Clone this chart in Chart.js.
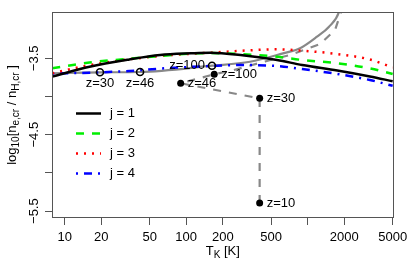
<!DOCTYPE html>
<html>
<head>
<meta charset="utf-8">
<script src="https://cdn.jsdelivr.net/npm/chart.js@4.4.0/dist/chart.umd.min.js"></script>
<style>
  html, body { margin: 0; padding: 0; background: #fff; }
</style>
</head>
<body>
<canvas id="myChart" width="407" height="271"></canvas>
<script>
// temperatures (K) shared by the four j curves
const tempK = [7.9, 16, 34, 61, 110, 157, 290, 560, 900, 1750, 3250, 5000];
const j1 = [-3.74, -3.61, -3.515, -3.457, -3.435, -3.427, -3.46, -3.522, -3.588, -3.66, -3.738, -3.80];
const j2 = [-3.631, -3.555, -3.505, -3.47, -3.437, -3.432, -3.446, -3.479, -3.522, -3.565, -3.631, -3.705];
const j3 = [-3.696, -3.59, -3.513, -3.47, -3.44, -3.427, -3.401, -3.382, -3.40, -3.444, -3.516, -3.62];
const j4 = [-3.699, -3.688, -3.666, -3.635, -3.612, -3.601, -3.588, -3.601, -3.64, -3.705, -3.784, -3.86];

// gray tracks (parametrised by redshift)
const trackAT = [7.86, 19.5, 41.7, 163, 335, 626, 864, 1193, 1497, 1810, 1900];
const trackAY = [-3.696, -3.683, -3.679, -3.597, -3.545, -3.435, -3.369, -3.217, -3.086, -2.894, -2.75];
const trackBT = [402, 402, 90, 170, 238, 445, 715, 1262, 1678, 1880, 1950];
const trackBY = [-5.394, -4.024, -3.827, -3.709, -3.66, -3.542, -3.457, -3.313, -3.13, -2.894, -2.75];

// marked redshifts
const openT = [19.5, 41.7, 163];
const openY = [-3.683, -3.679, -3.597];
const openLabels = ['z=30', 'z=46', 'z=100'];
const fillT = [90, 170, 402, 402];
const fillY = [-3.827, -3.709, -4.024, -5.394];
const fillLabels = ['z=46', 'z=100', 'z=30', 'z=10'];

// axes
const xTicks = [10, 20, 50, 100, 200, 500, 1000, 2000, 5000];
const xTickLabels = ['10', '20', '50', '100', '200', '500', '', '2000', '5000'];
const yTicks = [-5.5, -5, -4.5, -4, -3.5];
const yTickLabels = ['\u22125.5', '', '\u22124.5', '', '\u22123.5'];
const legendLabels = ['j = 1', 'j = 2', 'j = 3', 'j = 4'];

const FONT = "'Liberation Sans', Arial, Helvetica, sans-serif";
Chart.defaults.font.family = FONT;
Chart.defaults.font.size = 13;
Chart.defaults.color = '#000';

function pts(xs, ys) {
    return xs.map((v, i) => ({ x: v, y: ys[i] }));
}

const styles = [
    { color: '#000000', dash: [] },
    { color: '#00ee00', dash: [8, 8] },
    { color: '#ff0000', dash: [2, 6] },
    { color: '#0000ff', dash: [2, 6, 8, 6] }
];
const jSeries = [j1, j2, j3, j4];

let datasets = jSeries.map((s, i) => ({
    label: legendLabels[i],
    data: pts(tempK, s),
    borderColor: styles[i].color,
    borderDash: styles[i].dash,
    borderWidth: 2.5,
    pointRadius: 0,
    cubicInterpolationMode: 'monotone',
    order: 1
}));

datasets.push({
    label: 'trackA',
    data: pts(trackAT, trackAY),
    borderColor: '#888888',
    borderWidth: 2.2,
    pointRadius: 0,
    cubicInterpolationMode: 'monotone',
    order: 2
});
datasets.push({
    label: 'trackB',
    data: pts(trackBT, trackBY),
    borderColor: '#888888',
    borderDash: [8, 8],
    borderWidth: 2.2,
    pointRadius: 0,
    order: 2
});
datasets.push({
    label: 'open',
    data: pts(openT, openY),
    showLine: false,
    pointRadius: 3.5,
    pointBorderWidth: 1.6,
    pointBorderColor: '#000',
    pointBackgroundColor: 'rgba(0,0,0,0)',
    order: 0
});
datasets.push({
    label: 'filled',
    data: pts(fillT, fillY),
    showLine: false,
    pointRadius: 3.5,
    pointBorderWidth: 0,
    pointBackgroundColor: '#000',
    order: 0
});

// frame, rotated y labels, titles, legend and z labels
const decor = {
    id: 'decor',
    afterDraw(chart) {
        const ctx = chart.ctx;
        const a = chart.chartArea;
        const x = chart.scales.x, y = chart.scales.y;
        ctx.save();
        ctx.strokeStyle = '#555';
        ctx.lineWidth = 1;
        ctx.setLineDash([]);
        ctx.strokeRect(Math.round(a.left) + 0.5, Math.round(a.top) + 0.5,
            Math.round(a.right - a.left) - 1, Math.round(a.bottom - a.top) - 1);

        ctx.fillStyle = '#000';
        ctx.font = '13px ' + FONT;
        ctx.textAlign = 'center';
        ctx.textBaseline = 'middle';
        // y tick labels, parallel to the axis
        yTicks.forEach((v, i) => {
            if (!yTickLabels[i]) return;
            ctx.save();
            ctx.translate(34, y.getPixelForValue(v));
            ctx.rotate(-Math.PI / 2);
            ctx.fillText(yTickLabels[i], 0, 0);
            ctx.restore();
        });

        // x title  T_K [K]
        drawRich(ctx, [['T', 13, 0], ['K', 10, 4], [' [K]', 13, 0]], (a.left + a.right) / 2, 251.5);
        // y title
        ctx.save();
        ctx.translate(12, (a.top + a.bottom) / 2);
        ctx.rotate(-Math.PI / 2);
        drawRich(ctx, [['log', 13, 0], ['10', 10, 4], ['[n', 13, 0], ['e,cr', 10, 4],
            [' / n', 13, 0], ['H,cr', 10, 4], [' ]', 13, 0]], 0, 0);
        ctx.restore();

        // legend
        ctx.textAlign = 'left';
        ctx.font = '13px ' + FONT;
        legendLabels.forEach((lab, i) => {
            const ly = 113.5 + i * 20;
            ctx.beginPath();
            ctx.strokeStyle = styles[i].color;
            ctx.lineWidth = 2.5;
            ctx.setLineDash(styles[i].dash);
            ctx.moveTo(76, ly);
            ctx.lineTo(101, ly);
            ctx.stroke();
            ctx.fillText(lab, 110, ly);
        });
        ctx.setLineDash([]);

        // z labels
        openLabels.forEach((lab, i) => {
            const px = x.getPixelForValue(openT[i]);
            const py = y.getPixelForValue(openY[i]);
            if (i < 2) {
                ctx.textAlign = 'center';
                ctx.fillText(lab, px, py + 11);
            } else {
                ctx.textAlign = 'right';
                ctx.fillText(lab, px - 7, py);
            }
        });
        ctx.textAlign = 'left';
        fillLabels.forEach((lab, i) => {
            ctx.fillText(lab, x.getPixelForValue(fillT[i]) + 7, y.getPixelForValue(fillY[i]));
        });
        ctx.restore();
    }
};

function drawRich(ctx, parts, cx, cy) {
    let w = 0;
    parts.forEach(p => { ctx.font = p[1] + 'px ' + FONT; w += ctx.measureText(p[0]).width; });
    let px = cx - w / 2;
    ctx.textAlign = 'left';
    ctx.textBaseline = 'middle';
    parts.forEach(p => {
        ctx.font = p[1] + 'px ' + FONT;
        ctx.fillText(p[0], px, cy + p[2]);
        px += ctx.measureText(p[0]).width;
    });
}

const ctx = document.getElementById('myChart').getContext('2d');
const myChart = new Chart(ctx, {
    type: 'line',
    data: { datasets: datasets },
    options: {
        responsive: false,
        animation: false,
        devicePixelRatio: 1,
        layout: { padding: { left: 0, top: 12, right: 13.5, bottom: 0 } },
        plugins: { legend: { display: false }, tooltip: { enabled: false } },
        scales: {
            x: {
                type: 'logarithmic',
                min: 7.86,
                max: 5080,
                afterBuildTicks: s => { s.ticks = xTicks.map(v => ({ value: v })); },
                afterFit: s => { s.height = 53; s.paddingLeft = 0; s.paddingRight = 0; },
                ticks: {
                    autoSkip: false,
                    maxRotation: 0,
                    minRotation: 0,
                    padding: 5,
                    font: { size: 13 },
                    color: '#000',
                    callback: (v, i) => xTickLabels[i]
                },
                grid: { drawOnChartArea: false, drawTicks: true, tickLength: 7, color: '#555' },
                border: { display: false }
            },
            y: {
                type: 'linear',
                min: -5.59,
                max: -2.894,
                afterBuildTicks: s => { s.ticks = yTicks.map(v => ({ value: v })); },
                afterFit: s => { s.width = 52; s.paddingTop = 0; s.paddingBottom = 0; },
                ticks: { display: false },
                grid: { drawOnChartArea: false, drawTicks: true, tickLength: 7, color: '#555' },
                border: { display: false }
            }
        }
    },
    plugins: [decor]
});
</script>
</body>
</html>
